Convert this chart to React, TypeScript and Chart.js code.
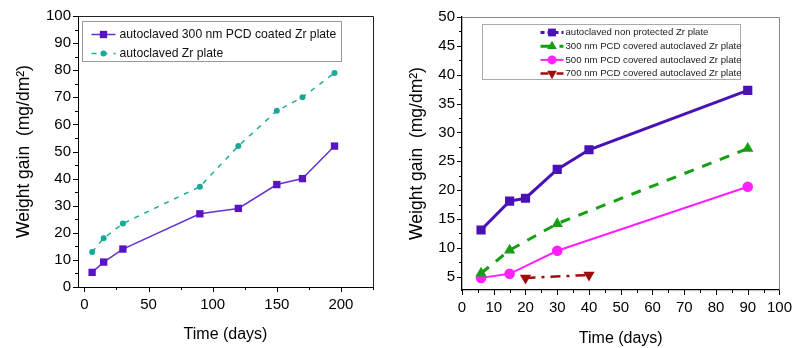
import React, { useEffect, useRef } from 'react';
import { Chart, registerables } from 'chart.js';

Chart.register(...registerables);

// ---------- data ----------
const leftDays = [6, 15, 30, 90, 120, 150, 170, 195];
const leftCoated = [5.4, 9.2, 14, 27, 29, 37.8, 40, 52];
const leftBare = [12.9, 18, 23.4, 37, 52, 65, 70, 79];
const leftLabels = ['autoclaved 300 nm PCD coated Zr plate', 'autoclaved Zr plate'];

const rightBareDays = [6, 15, 20, 30, 40, 90];
const rightBare = [13.1, 18.1, 18.6, 23.6, 27, 37.3];
const right300Days = [6, 15, 30, 90];
const right300 = [5.6, 9.6, 14.2, 27.2];
const right500Days = [6, 15, 30, 90];
const right500 = [4.8, 5.5, 9.5, 20.6];
const right700Days = [20, 40];
const right700 = [4.8, 5.3];
const rightLabels = [
  'autoclaved non protected Zr plate',
  '300 nm PCD covered autoclaved Zr plate',
  '500 nm PCD covered autoclaved Zr plate',
  '700 nm PCD covered autoclaved Zr plate',
];

// tick positions (major ones get labels)
const leftXTicks = [0, 25, 50, 75, 100, 125, 150, 175, 200, 225];
const leftXMajor = [0, 50, 100, 150, 200];
const leftYTicks = [0, 5, 10, 15, 20, 25, 30, 35, 40, 45, 50, 55, 60, 65, 70, 75, 80, 85, 90, 95, 100];
const leftYMajor = [0, 10, 20, 30, 40, 50, 60, 70, 80, 90, 100];
const rightXTicks = [0, 5, 10, 15, 20, 25, 30, 35, 40, 45, 50, 55, 60, 65, 70, 75, 80, 85, 90, 95, 100];
const rightXMajor = [0, 10, 20, 30, 40, 50, 60, 70, 80, 90, 100];
const rightYTicks = [5, 7.5, 10, 12.5, 15, 17.5, 20, 22.5, 25, 27.5, 30, 32.5, 35, 37.5, 40, 42.5, 45, 47.5, 50];
const rightYMajor = [5, 10, 15, 20, 25, 30, 35, 40, 45, 50];

const xTitle = 'Time (days)';
const yTitle = 'Weight gain  (mg/dm\u00B2)';

const FONT = "'Liberation Sans', Arial, sans-serif";

const pts = (xs: number[], ys: number[]) => xs.map((x, i) => ({ x, y: ys[i] }));

// ---------- plugins ----------
function drawMarker(ctx: CanvasRenderingContext2D, style: string, rotation: number, r: number, x: number, y: number, color: string) {
  ctx.save();
  ctx.fillStyle = color;
  ctx.beginPath();
  if (style === 'rect') {
    const s = Math.SQRT1_2 * r;
    ctx.rect(x - s, y - s, 2 * s, 2 * s);
  } else if (style === 'triangle') {
    let rad = (rotation * Math.PI) / 180;
    ctx.moveTo(x + Math.sin(rad) * r, y - Math.cos(rad) * r);
    rad += (2 * Math.PI) / 3;
    ctx.lineTo(x + Math.sin(rad) * r, y - Math.cos(rad) * r);
    rad += (2 * Math.PI) / 3;
    ctx.lineTo(x + Math.sin(rad) * r, y - Math.cos(rad) * r);
    ctx.closePath();
  } else {
    ctx.arc(x, y, r, 0, Math.PI * 2);
  }
  ctx.fill();
  ctx.restore();
}

const tickMarks = {
  id: 'tickMarks',
  afterDraw(chart: any, _args: any, o: any) {
    const ctx = chart.ctx;
    ctx.save();
    ctx.strokeStyle = o.color;
    ctx.lineWidth = 1;
    for (const id of ['x', 'y']) {
      const s = chart.scales[id];
      s.ticks.forEach((t: any) => {
        const len = t.label !== '' ? o.majorLen : o.minorLen;
        const p = Math.round(s.getPixelForValue(t.value)) + 0.5;
        ctx.beginPath();
        if (id === 'x') {
          ctx.moveTo(p, s.top);
          ctx.lineTo(p, s.top + len);
        } else {
          ctx.moveTo(s.right, p);
          ctx.lineTo(s.right - len, p);
        }
        ctx.stroke();
      });
    }
    ctx.restore();
  },
};

const frame = {
  id: 'frame',
  afterDraw(chart: any, _args: any, o: any) {
    const { ctx, chartArea: a } = chart;
    ctx.save();
    ctx.strokeStyle = o.color;
    ctx.lineWidth = o.width;
    ctx.beginPath();
    ctx.moveTo(a.left, Math.round(a.top) + 0.5);
    ctx.lineTo(Math.round(a.right) + 0.5, Math.round(a.top) + 0.5);
    ctx.lineTo(Math.round(a.right) + 0.5, a.bottom);
    ctx.stroke();
    ctx.restore();
  },
};

const boxLegend = {
  id: 'boxLegend',
  afterDraw(chart: any, _args: any, o: any) {
    const { ctx, chartArea: a } = chart;
    const x0 = Math.round(a.left + o.left) + 0.5;
    const y0 = Math.round(a.top + o.top) + 0.5;
    ctx.save();
    ctx.fillStyle = '#fff';
    ctx.fillRect(x0, y0, o.width, o.height);
    ctx.strokeStyle = o.borderColor;
    ctx.lineWidth = 1;
    ctx.strokeRect(x0, y0, o.width, o.height);
    ctx.font = o.font;
    ctx.textBaseline = 'middle';
    ctx.textAlign = 'left';
    chart.data.datasets.forEach((ds: any, i: number) => {
      const cy = y0 + o.firstRow + i * o.rowHeight;
      const sx = x0 + o.sampleLeft;
      ctx.strokeStyle = ds.borderColor;
      ctx.lineWidth = ds.borderWidth;
      ctx.setLineDash((o.dashes && o.dashes[i]) || ds.borderDash || []);
      ctx.beginPath();
      ctx.moveTo(sx, cy);
      ctx.lineTo(sx + o.sampleLen, cy);
      ctx.stroke();
      ctx.setLineDash([]);
      drawMarker(ctx, ds.pointStyle, ds.pointRotation || 0, ds.pointRadius * o.markerScale, sx + o.sampleLen / 2, cy, ds.pointBackgroundColor);
      ctx.fillStyle = o.textColor;
      ctx.fillText(ds.label, sx + o.sampleLen + o.textGap, cy);
    });
    ctx.restore();
  },
};

function axisCommon(opts: any) {
  return {
    type: 'linear',
    min: opts.min,
    max: opts.max,
    grid: { display: false, drawTicks: false },
    border: { display: true, color: '#000', width: opts.borderWidth ?? 1 },
    afterBuildTicks: (scale: any) => {
      scale.ticks = opts.ticks.map((v: number) => ({ value: v }));
    },
    ticks: {
      autoSkip: false,
      maxRotation: 0,
      padding: opts.padding,
      color: '#000',
      font: { family: FONT, size: opts.fontSize ?? 15 },
      callback: (v: number) => (opts.major.includes(v) ? String(v) : ''),
    },
    title: {
      display: true,
      text: opts.title,
      color: '#000',
      font: { family: FONT, size: opts.titleSize ?? 16 },
      padding: opts.titlePadding,
    },
    afterFit: opts.afterFit,
  };
}

function useChart(ref: React.RefObject<HTMLCanvasElement>, make: () => any) {
  useEffect(() => {
    if (!ref.current) return;
    const chart = new Chart(ref.current, make());
    return () => chart.destroy();
  }, []);
}

function LeftChart() {
  const ref = useRef<HTMLCanvasElement>(null);
  useChart(ref, () => ({
    type: 'scatter',
    data: {
      datasets: [
        {
          label: leftLabels[0],
          data: pts(leftDays, leftCoated),
          showLine: true,
          borderColor: '#6a30d2',
          borderWidth: 1.5,
          pointStyle: 'rect',
          pointRadius: 5.2,
          pointBackgroundColor: '#5a14c4',
          pointBorderColor: '#5a14c4',
          pointBorderWidth: 0,
        },
        {
          label: leftLabels[1],
          data: pts(leftDays, leftBare),
          showLine: true,
          borderColor: '#22ab9c',
          borderWidth: 1.5,
          borderDash: [5, 6],
          pointStyle: 'circle',
          pointRadius: 3,
          pointBackgroundColor: '#1aa898',
          pointBorderColor: '#1aa898',
          pointBorderWidth: 0,
        },
      ],
    },
    options: {
      animation: false,
      responsive: false,
      layout: { padding: { top: 16, right: 27, left: 0, bottom: 0 } },
      scales: {
        x: axisCommon({ min: -5, max: 225, ticks: leftXTicks, major: leftXMajor, padding: 9, title: xTitle, titlePadding: { top: 0, bottom: 4 }, afterFit: (s: any) => { s.height = 61; } }),
        y: axisCommon({ min: 0, max: 100, ticks: leftYTicks, major: leftYMajor, padding: 7, title: yTitle, titleSize: 17.5, titlePadding: { top: 14, bottom: 0 }, afterFit: (s: any) => { s.width = 78; } }),
      },
      plugins: {
        legend: { display: false },
        tooltip: { enabled: false },
        tickMarks: { color: '#000', majorLen: 5, minorLen: 3 },
        frame: { color: '#222', width: 1 },
        boxLegend: {
          left: 4, top: 5, width: 259, height: 40, firstRow: 13, rowHeight: 19,
          sampleLeft: 9, sampleLen: 24, textGap: 4, markerScale: 1,
          font: `12.2px ${FONT}`, textColor: '#111', borderColor: '#999',
        },
      },
    },
    plugins: [tickMarks, frame, boxLegend],
  }));
  return <canvas ref={ref} width={400} height={348} style={{ position: 'absolute', left: 0, top: 0 }} />;
}

function RightChart() {
  const ref = useRef<HTMLCanvasElement>(null);
  useChart(ref, () => ({
    type: 'scatter',
    data: {
      datasets: [
        {
          label: rightLabels[0],
          data: pts(rightBareDays, rightBare),
          showLine: true,
          borderColor: '#4a12b4',
          borderWidth: 3,
          pointStyle: 'rect',
          pointRadius: 6.5,
          pointBackgroundColor: '#4a12b4',
          pointBorderWidth: 0,
        },
        {
          label: rightLabels[1],
          data: pts(right300Days, right300),
          showLine: true,
          borderColor: '#13a013',
          borderWidth: 3,
          borderDash: [10, 9],
          pointStyle: 'triangle',
          pointRadius: 6.5,
          pointBackgroundColor: '#13a013',
          pointBorderWidth: 0,
        },
        {
          label: rightLabels[2],
          data: pts(right500Days, right500),
          showLine: true,
          borderColor: '#ff22ff',
          borderWidth: 2,
          pointStyle: 'circle',
          pointRadius: 5.3,
          pointBackgroundColor: '#ff22ff',
          pointBorderWidth: 0,
        },
        {
          label: rightLabels[3],
          data: pts(right700Days, right700),
          showLine: true,
          borderColor: '#a00c0c',
          borderWidth: 2.5,
          borderDash: [10, 6, 3, 6],
          pointStyle: 'triangle',
          pointRotation: 180,
          pointRadius: 6.5,
          pointBackgroundColor: '#a00c0c',
          pointBorderWidth: 0,
        },
      ],
    },
    options: {
      animation: false,
      responsive: false,
      layout: { padding: { top: 17, right: 14, left: 0, bottom: 0 } },
      scales: {
        x: axisCommon({ min: 0, max: 100, ticks: rightXTicks, major: rightXMajor, padding: 9, borderWidth: 1.3, title: xTitle, titlePadding: { top: 0, bottom: 0 }, afterFit: (s: any) => { s.height = 58; } }),
        y: axisCommon({ min: 2.7, max: 50, ticks: rightYTicks, major: rightYMajor, padding: 7, borderWidth: 1.3, title: yTitle, titleSize: 17.5, titlePadding: { top: 7, bottom: 0 }, afterFit: (s: any) => { s.width = 62; } }),
      },
      plugins: {
        legend: { display: false },
        tooltip: { enabled: false },
        tickMarks: { color: '#000', majorLen: 5, minorLen: 3 },
        frame: { color: '#888', width: 1 },
        boxLegend: {
          left: 20, top: 7, width: 258, height: 55, firstRow: 8, rowHeight: 13.7,
          sampleLeft: 58, sampleLen: 23, textGap: 2, markerScale: 0.85,
          font: `9.6px ${FONT}`, textColor: '#222', borderColor: '#aaa',
          dashes: [[4, 3], null, null, [8, 3, 2, 3]],
        },
      },
    },
    plugins: [tickMarks, frame, boxLegend],
  }));
  return <canvas ref={ref} width={401} height={348} style={{ position: 'absolute', left: 400, top: 0 }} />;
}

export default function App() {
  return (
    <div style={{ position: 'fixed', left: 0, top: 0, width: 801, height: 348, background: '#fff' }}>
      <LeftChart />
      <RightChart />
    </div>
  );
}
